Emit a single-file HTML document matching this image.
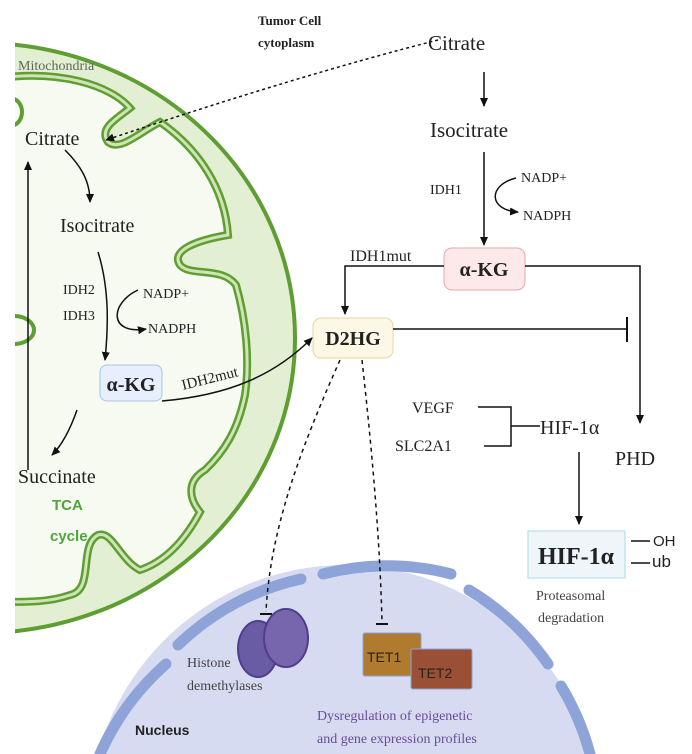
<!DOCTYPE html>
<html><head><meta charset="utf-8"><style>
html,body{margin:0;padding:0;background:#fff;overflow:hidden;width:692px;height:754px}
svg{display:block;overflow:hidden}
text{font-family:"Liberation Serif",serif;fill:#222}
.s{font-family:"Liberation Sans",sans-serif}
</style></head><body>
<svg width="692" height="754" viewBox="0 0 692 754">
<defs>
<marker id="a" markerWidth="10" markerHeight="10" refX="8" refY="5" orient="auto" markerUnits="userSpaceOnUse"><path d="M0,1 L9,5 L0,9 Z" fill="#111"/></marker>
<clipPath id="c"><rect x="15" y="0" width="700" height="754"/></clipPath>
<clipPath id="b"><rect x="0" y="0" width="692" height="754"/></clipPath>
</defs>
<!-- mitochondria -->
<g clip-path="url(#c)">
<ellipse cx="-20" cy="338" rx="315" ry="295" fill="#e3efd2" stroke="#5f9e33" stroke-width="4"/>
<path d="M 0,78 C 60,70 110,85 130,108 C 118,118 98,128 108,142 C 120,152 140,132 160,122 C 200,150 225,190 228,235 C 198,240 170,250 180,265 C 190,277 222,266 236,285 C 246,320 250,360 245,395 C 238,430 224,452 205,470 C 185,482 190,500 200,512 C 184,542 164,562 140,570 C 120,560 112,530 98,535 C 78,545 95,590 70,595 C 50,602 30,602 0,602 Z" fill="#f6faf0" stroke="#5f9e33" stroke-width="8"/>
<path d="M 0,78 C 60,70 110,85 130,108 C 118,118 98,128 108,142 C 120,152 140,132 160,122 C 200,150 225,190 228,235 C 198,240 170,250 180,265 C 190,277 222,266 236,285 C 246,320 250,360 245,395 C 238,430 224,452 205,470 C 185,482 190,500 200,512 C 184,542 164,562 140,570 C 120,560 112,530 98,535 C 78,545 95,590 70,595 C 50,602 30,602 0,602" fill="none" stroke="#cfe5b5" stroke-width="3"/>
<ellipse cx="10" cy="112" rx="12" ry="14" fill="none" stroke="#5f9e33" stroke-width="4"/>
<ellipse cx="14" cy="330" rx="20" ry="14" fill="none" stroke="#5f9e33" stroke-width="4"/>
</g>
<text x="18" y="70" font-size="14" style="fill:#5a6a55">Mitochondria</text>
<text x="258" y="25" font-size="13" font-weight="bold">Tumor Cell</text>
<text x="258" y="47" font-size="13" font-weight="bold">cytoplasm</text>
<path d="M438,40 Q300,75 106,140" fill="none" stroke="#111" stroke-width="1.5" stroke-dasharray="3,3" marker-end="url(#a)"/>
<text x="25" y="145" font-size="20">Citrate</text>
<text x="60" y="232" font-size="20">Isocitrate</text>
<text x="63" y="294" font-size="14">IDH2</text>
<text x="63" y="320" font-size="14">IDH3</text>
<text x="143" y="298" font-size="14">NADP+</text>
<text x="148" y="333" font-size="14">NADPH</text>
<path d="M65,150 C80,165 90,180 90,202" fill="none" stroke="#111" stroke-width="1.5" marker-end="url(#a)"/>
<path d="M98,252 C110,290 108,330 105,360" fill="none" stroke="#111" stroke-width="1.5" marker-end="url(#a)"/>
<path d="M138,290 C110,303 108,335 146,329" fill="none" stroke="#111" stroke-width="1.5" marker-end="url(#a)"/>
<rect x="100" y="365" width="62" height="36" rx="7" fill="#e6effb" stroke="#a8c4ea"/>
<text x="131" y="391" font-size="20" font-weight="bold" text-anchor="middle">α-KG</text>
<path d="M162,401 C230,395 275,375 312,338" fill="none" stroke="#111" stroke-width="1.5" marker-end="url(#a)"/>
<text x="183" y="390" font-size="15" transform="rotate(-14 183 390)">IDH2mut</text>
<path d="M77,410 C70,430 62,445 52,455" fill="none" stroke="#111" stroke-width="1.5" marker-end="url(#a)"/>
<line x1="28" y1="470" x2="28" y2="162" stroke="#111" stroke-width="1.5" marker-end="url(#a)"/>
<text x="18" y="483" font-size="20">Succinate</text>
<text x="52" y="510" font-size="15" font-weight="bold" class="s" style="fill:#4fa43a">TCA</text>
<text x="50" y="541" font-size="15" font-weight="bold" class="s" style="fill:#4fa43a">cycle</text>
<!-- right -->
<text x="428" y="50" font-size="21">Citrate</text>
<line x1="484" y1="72" x2="484" y2="106" stroke="#111" stroke-width="1.5" marker-end="url(#a)"/>
<text x="430" y="137" font-size="21">Isocitrate</text>
<text x="430" y="194" font-size="14">IDH1</text>
<text x="521" y="182" font-size="14">NADP+</text>
<text x="523" y="220" font-size="14">NADPH</text>
<line x1="484" y1="152" x2="484" y2="245" stroke="#111" stroke-width="1.5" marker-end="url(#a)"/>
<path d="M516,178 C488,185 488,210 518,212" fill="none" stroke="#111" stroke-width="1.5" marker-end="url(#a)"/>
<rect x="444" y="248" width="81" height="42" rx="8" fill="#fde8ea" stroke="#e8a7ad"/>
<text x="484" y="276" font-size="20" font-weight="bold" text-anchor="middle">α-KG</text>
<text x="350" y="261" font-size="16">IDH1mut</text>
<polyline points="444,266 345,266 345,314" fill="none" stroke="#111" stroke-width="1.5" marker-end="url(#a)"/>
<polyline points="525,266 640,266 640,423" fill="none" stroke="#111" stroke-width="1.5" marker-end="url(#a)"/>
<rect x="313" y="318" width="80" height="40" rx="8" fill="#fdf8e6" stroke="#e5d5a5"/>
<text x="353" y="345" font-size="20" font-weight="bold" text-anchor="middle">D2HG</text>
<line x1="393" y1="329" x2="627" y2="329" stroke="#111" stroke-width="1.5"/>
<line x1="627" y1="317" x2="627" y2="342" stroke="#111" stroke-width="2"/>
<text x="615" y="465" font-size="20">PHD</text>
<text x="412" y="413" font-size="16">VEGF</text>
<text x="395" y="451" font-size="16">SLC2A1</text>
<polyline points="478,407 511,407 511,446 484,446" fill="none" stroke="#111" stroke-width="1.5"/>
<line x1="511" y1="426" x2="540" y2="426" stroke="#111" stroke-width="1.5"/>
<text x="540" y="434" font-size="20">HIF-1α</text>
<line x1="579" y1="452" x2="579" y2="524" stroke="#111" stroke-width="1.5" marker-end="url(#a)"/>
<rect x="528" y="531" width="97" height="47" fill="#eef5fb" stroke="#a9dede"/>
<text x="576" y="564" font-size="24" font-weight="bold" text-anchor="middle">HIF-1α</text>
<line x1="631" y1="541" x2="650" y2="541" stroke="#111" stroke-width="1.5"/>
<line x1="631" y1="563" x2="650" y2="563" stroke="#111" stroke-width="1.5"/>
<text x="653" y="546" font-size="15" class="s">OH</text>
<text x="652" y="567" font-size="17" class="s">ub</text>
<text x="536" y="600" font-size="14" style="fill:#444">Proteasomal</text>
<text x="538" y="622" font-size="14" style="fill:#444">degradation</text>
<!-- nucleus -->
<g clip-path="url(#b)">
<ellipse cx="345" cy="825" rx="257" ry="260" fill="#d7dbf1"/>
<g fill="none" stroke="#8ea3d8" stroke-width="11" stroke-linecap="round">
<path d="M178,645 A257,260 0 0 1 301,579"/>
<path d="M323,574 A257,260 0 0 1 451,574"/>
<path d="M469,590 A257,260 0 0 1 548,664"/>
<path d="M561,686 A257,260 0 0 1 590,754"/>
<path d="M100,754 A257,260 0 0 1 166,664"/>
</g>
</g>
<path d="M340,360 C300,450 270,530 266,612" fill="none" stroke="#111" stroke-width="1.5" stroke-dasharray="4,4"/>
<line x1="260" y1="614" x2="272" y2="614" stroke="#111" stroke-width="2"/>
<path d="M362,360 C372,450 380,540 382,622" fill="none" stroke="#111" stroke-width="1.5" stroke-dasharray="4,4"/>
<line x1="376" y1="624" x2="388" y2="624" stroke="#111" stroke-width="2"/>
<ellipse cx="258" cy="649" rx="20" ry="28" fill="#6a5ba5" stroke="#4d3f8a" stroke-width="2"/>
<ellipse cx="286" cy="638" rx="22" ry="29" fill="#7766ad" stroke="#4d3f8a" stroke-width="2"/>
<text x="187" y="667" font-size="14" style="fill:#444">Histone</text>
<text x="187" y="690" font-size="14" style="fill:#444">demethylases</text>
<rect x="363" y="633" width="58" height="43" rx="2" fill="#b07a2f" stroke="#8ea3d8"/>
<text x="367" y="662" font-size="14" class="s" style="fill:#222">TET1</text>
<rect x="411" y="649" width="61" height="40" rx="2" fill="#9a5035" stroke="#8ea3d8"/>
<text x="418" y="678" font-size="14" class="s" style="fill:#222">TET2</text>
<text x="135" y="735" font-size="14" font-weight="bold" class="s">Nucleus</text>
<text x="317" y="720" font-size="14" style="fill:#6a4b9c">Dysregulation of epigenetic</text>
<text x="317" y="743" font-size="14" style="fill:#6a4b9c">and gene expression profiles</text>
</svg>
</body></html>
